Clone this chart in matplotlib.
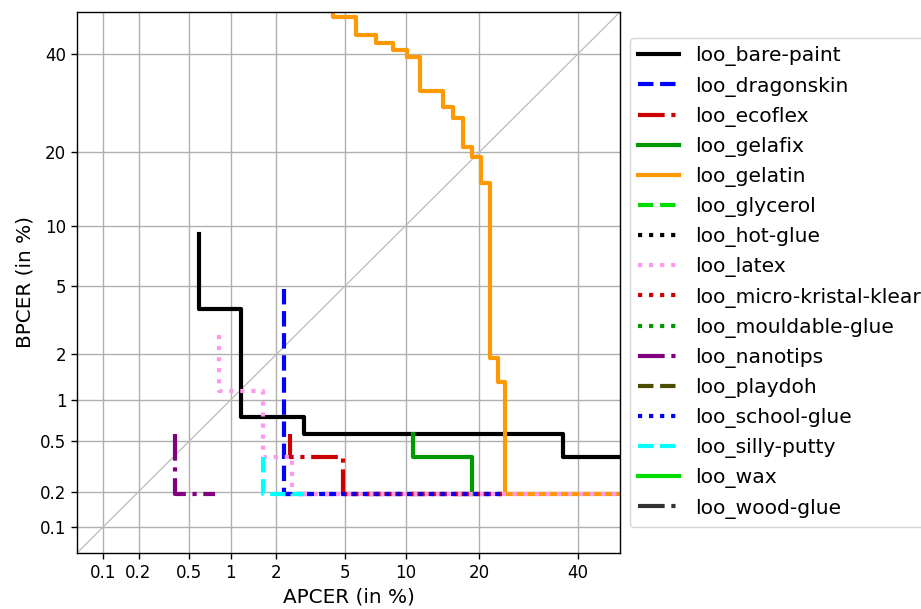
from statistics import NormalDist
import numpy as np
import matplotlib
matplotlib.use('Agg')
import matplotlib.pyplot as plt

# Limites e ticks (em %)
lim_lo = 0.0585
lim_hi = 50.0
tick_vals = [0.1, 0.2, 0.5, 1, 2, 5, 10, 20, 40]
tick_labels = ['0.1', '0.2', '0.5', '1', '2', '5', '10', '20', '40']

# Curvas DET: (APCER %, BPCER %)
bare_paint_x = [0.59, 0.59, 1.17, 1.17, 2.94, 2.94, 36.7, 36.7, 50]
bare_paint_y = [9.1, 3.75, 3.75, 0.76, 0.76, 0.57, 0.57, 0.38, 0.38]

dragonskin_x = [2.22, 2.22, 24.0]
dragonskin_y = [4.8, 0.19, 0.19]

ecoflex_x = [2.41, 2.41, 4.87, 4.87, 24.0]
ecoflex_y = [0.57, 0.38, 0.38, 0.19, 0.19]

gelafix_x = [10.8, 10.8, 18.8, 18.8]
gelafix_y = [0.57, 0.38, 0.38, 0.19]

gelatin_x = [4.29, 4.29, 5.75, 5.75, 7.24, 7.24, 8.70, 8.70, 10.15, 10.15,
             11.56, 11.56, 14.52, 14.52, 15.94, 15.94, 17.46, 17.46, 18.84,
             18.84, 20.27, 20.27, 21.77, 21.77, 23.22, 23.22, 24.57, 24.57, 50]
gelatin_y = [60, 48.7, 48.7, 44.4, 44.4, 42.6, 42.6, 40.9, 40.9, 39.4,
             39.4, 31.8, 31.8, 28.5, 28.5, 26.2, 26.2, 20.9, 20.9,
             19.2, 19.2, 15.2, 15.2, 1.90, 1.90, 1.33, 1.33, 0.19, 0.19]

latex_x = [0.83, 0.83, 1.65, 1.65, 2.49, 2.49, 50]
latex_y = [2.62, 1.14, 1.14, 0.38, 0.38, 0.19, 0.19]

micro_kristal_x = [4.87, 24.0]
micro_kristal_y = [0.19, 0.19]

nanotips_x = [0.387, 0.387, 0.77]
nanotips_y = [0.57, 0.19, 0.19]

school_glue_x = [2.3, 24.0]
school_glue_y = [0.19, 0.19]

silly_putty_x = [1.65, 1.65, 2.94]
silly_putty_y = [0.38, 0.19, 0.19]

empty = []

curves = [
    ('loo_bare-paint', bare_paint_x, bare_paint_y, 'k', '-'),
    ('loo_dragonskin', dragonskin_x, dragonskin_y, '#0000ff', '--'),
    ('loo_ecoflex', ecoflex_x, ecoflex_y, '#cc0000', '-.'),
    ('loo_gelafix', gelafix_x, gelafix_y, '#009900', '-'),
    ('loo_gelatin', gelatin_x, gelatin_y, '#ff9900', '-'),
    ('loo_glycerol', empty, empty, '#00dd00', '--'),
    ('loo_hot-glue', empty, empty, 'k', ':'),
    ('loo_latex', latex_x, latex_y, '#ff99ee', ':'),
    ('loo_micro-kristal-klear', micro_kristal_x, micro_kristal_y, '#cc0000', ':'),
    ('loo_mouldable-glue', empty, empty, '#009900', ':'),
    ('loo_nanotips', nanotips_x, nanotips_y, '#800080', '-.'),
    ('loo_playdoh', empty, empty, '#4d4d00', '--'),
    ('loo_school-glue', school_glue_x, school_glue_y, '#0000ff', ':'),
    ('loo_silly-putty', silly_putty_x, silly_putty_y, '#00ffff', '--'),
    ('loo_wax', empty, empty, '#00dd00', '-'),
    ('loo_wood-glue', empty, empty, '#333333', '-.'),
]

nd = NormalDist()


def probit(v):
    v = np.clip(np.asarray(v, dtype=float) / 100.0, 1e-9, 1 - 1e-9)
    return np.vectorize(nd.inv_cdf, otypes=[float])(v)


def probit_inv(v):
    return np.vectorize(nd.cdf, otypes=[float])(np.asarray(v, dtype=float)) * 100.0


fig = plt.figure(figsize=(9.21, 6.09), dpi=100)
ax = fig.add_axes([77 / 921, 1 - 553 / 609, 543 / 921, 541 / 609])
ax.set_xscale('function', functions=(probit, probit_inv))
ax.set_yscale('function', functions=(probit, probit_inv))

ax.plot([lim_lo, lim_hi], [lim_lo, lim_hi], color='#bbbbbb', linewidth=0.9, zorder=1)

for name, xs, ys, color, ls in curves:
    ax.plot(xs, ys, color=color, linestyle=ls, linewidth=3, label=name, zorder=2)

ax.set_xlim(lim_lo, lim_hi)
ax.set_ylim(lim_lo, lim_hi)
ax.set_xticks(tick_vals)
ax.set_xticklabels(tick_labels)
ax.set_yticks(tick_vals)
ax.set_yticklabels(tick_labels)
ax.minorticks_off()
ax.tick_params(labelsize=12, length=4.2, width=1.0)
for sp in ax.spines.values():
    sp.set_linewidth(1.0)
ax.grid(True, color='#b0b0b0', linewidth=1.0)
ax.set_axisbelow(True)

ax.set_xlabel('APCER (in %)', fontsize=14.4)
ax.set_ylabel('BPCER (in %)', fontsize=14.4)

ax.legend(loc='center left', bbox_to_anchor=(1, 0.5), fontsize=14.6)

fig.savefig('out.png', dpi=100)
